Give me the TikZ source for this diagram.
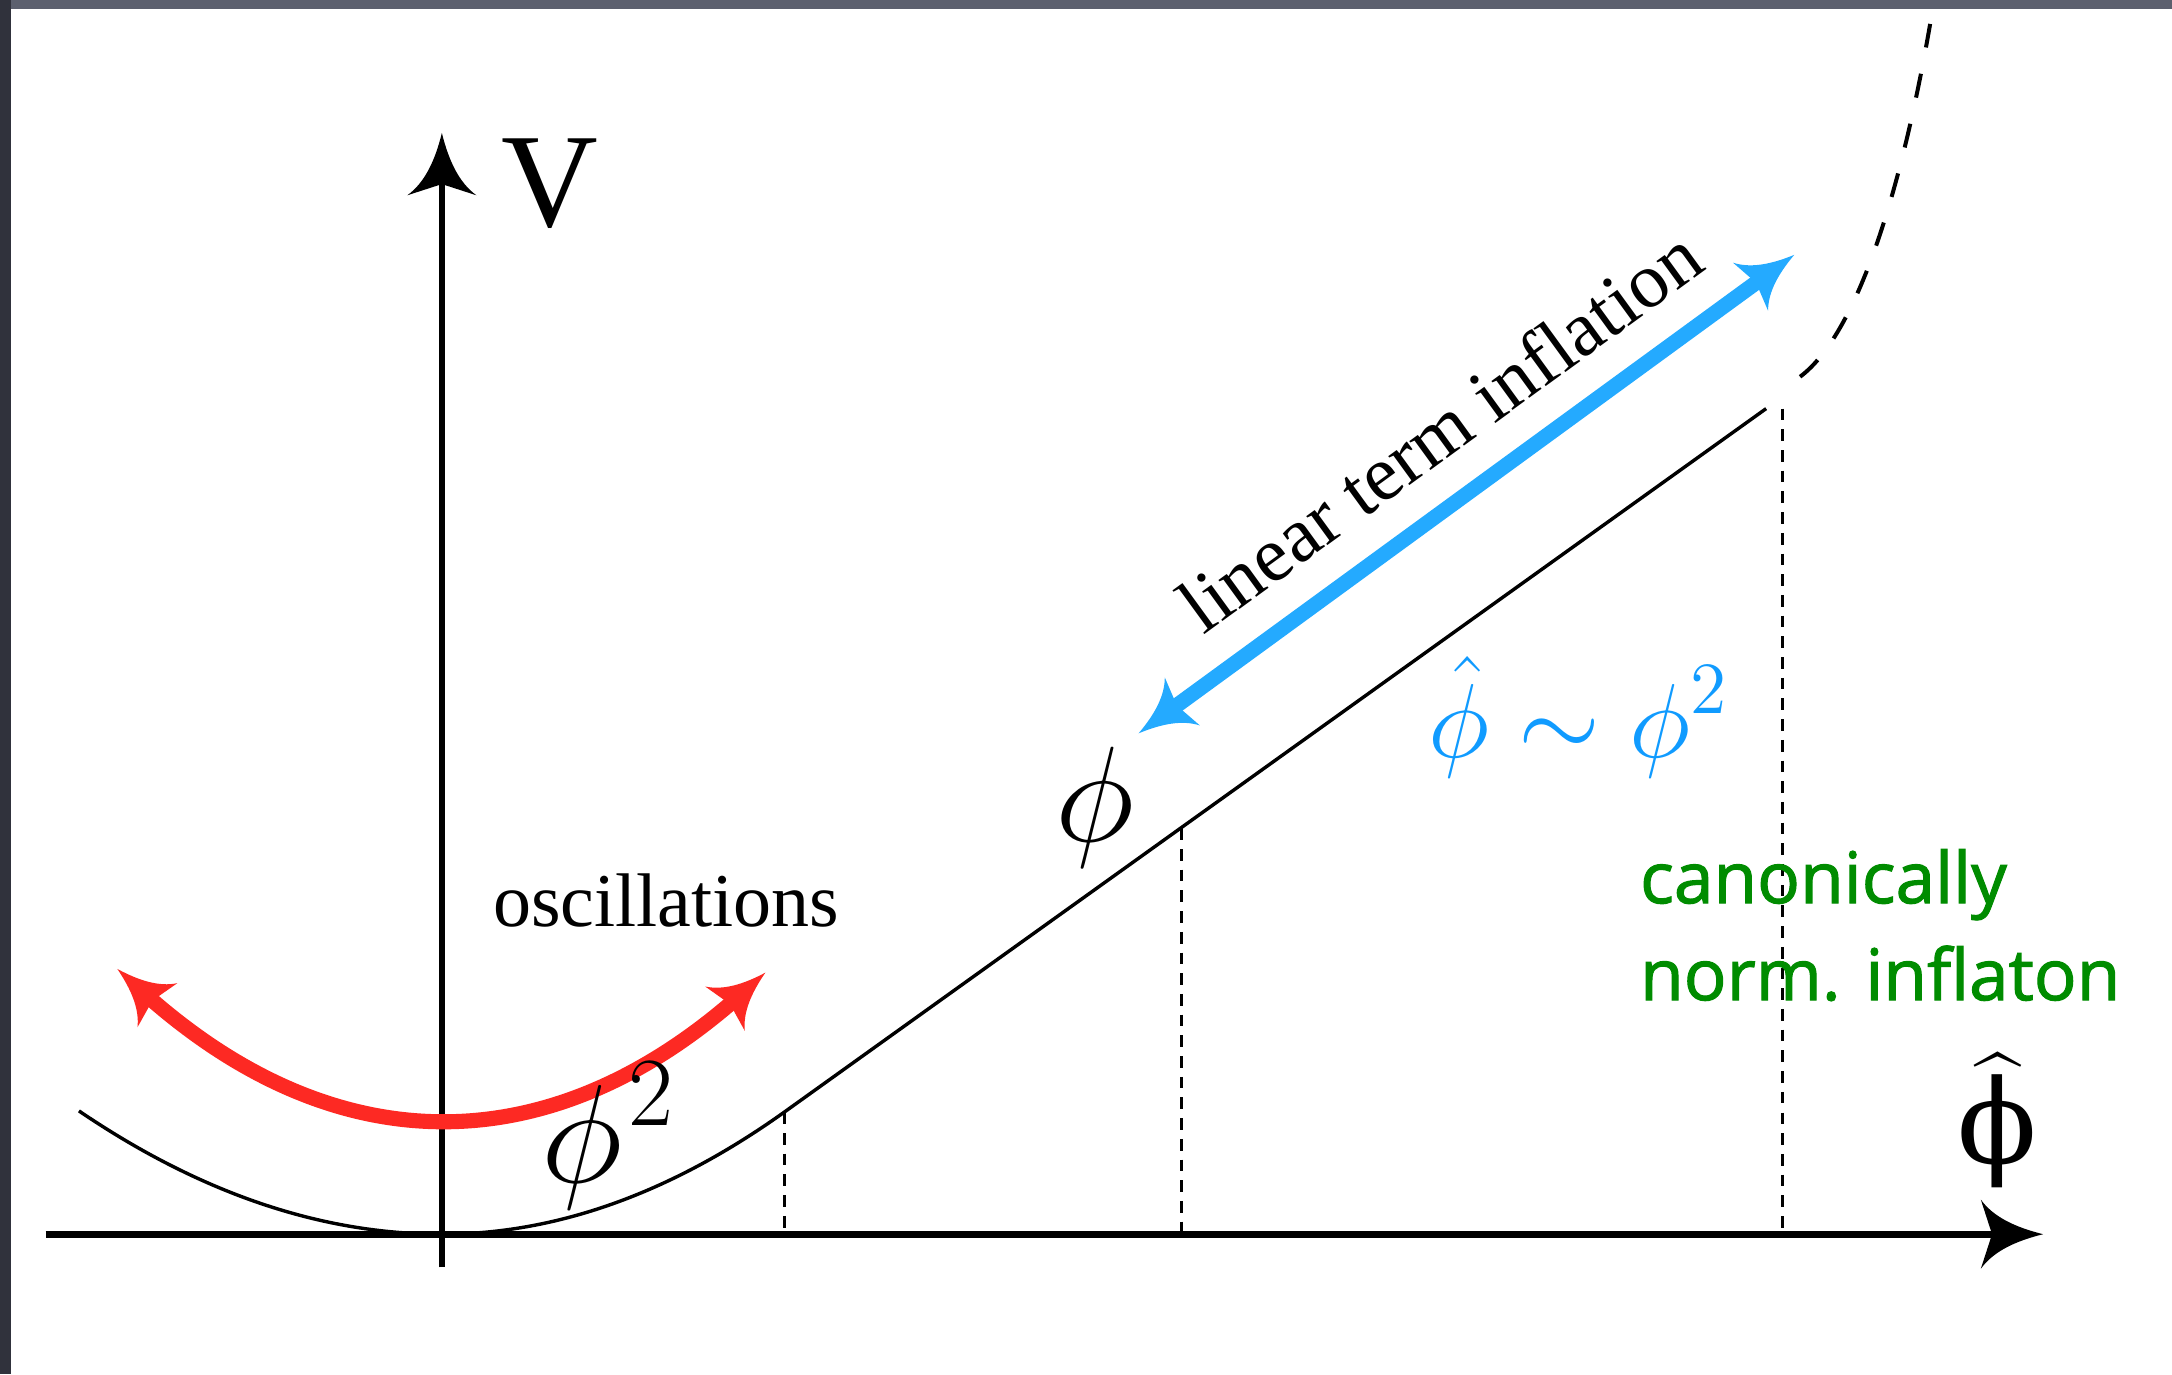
\documentclass[tikz,border=0pt]{standalone}
\usepackage{fix-cm}
\usepackage[no-math]{fontspec}
\usepackage{amsmath}
\setmainfont{Liberation Serif}
\newfontfamily\greenfont[FakeBold=1.5]{Open Sans}
\newfontfamily\phifont{DejaVu Serif}
\usetikzlibrary{arrows.meta}

\pgfdeclarearrow{
  name = KArrow,
  defaults = {length = 12pt, width = 12pt, inset = 2pt},
  setup code = {
    \pgfarrowssettipend{0pt}
    \pgfarrowssetbackend{-\pgfarrowlength}
    \pgfarrowssetlineend{-0.6\pgfarrowlength}
    \pgfarrowssavethe\pgfarrowlength
    \pgfarrowssavethe\pgfarrowwidth
    \pgfarrowssavethe\pgfarrowinset
  },
  parameters = {\the\pgfarrowlength,\the\pgfarrowwidth,\the\pgfarrowinset},
  drawing code = {
    \pgfpathmoveto{\pgfpointorigin}
    \pgfpathcurveto
      {\pgfpoint{-0.45\pgfarrowlength}{0.1\pgfarrowwidth}}
      {\pgfpoint{-0.8\pgfarrowlength}{0.25\pgfarrowwidth}}
      {\pgfpoint{-\pgfarrowlength}{0.5\pgfarrowwidth}}
    \pgfpathlineto{\pgfpoint{\pgfarrowinset-\pgfarrowlength}{0pt}}
    \pgfpathlineto{\pgfpoint{-\pgfarrowlength}{-0.5\pgfarrowwidth}}
    \pgfpathcurveto
      {\pgfpoint{-0.8\pgfarrowlength}{-0.25\pgfarrowwidth}}
      {\pgfpoint{-0.45\pgfarrowlength}{-0.1\pgfarrowwidth}}
      {\pgfpointorigin}
    \pgfpathclose
    \pgfusepathqfill
  }
}

\definecolor{oscred}{RGB}{253,41,35}
\definecolor{infblue}{RGB}{36,170,255}
\definecolor{formblue}{RGB}{16,155,255}
\definecolor{cangreen}{RGB}{0,140,0}
\definecolor{frametop}{RGB}{92,96,110}
\definecolor{frameleft}{RGB}{48,50,60}

\tikzset{
  axisline/.style={line width=1.37pt, -{KArrow[length=12.8pt,width=14.2pt,inset=2.3pt]}},
  potline/.style={line width=0.7pt},
  guide/.style={line width=0.62pt, dash pattern=on 2.4pt off 1.85pt},
  extline/.style={line width=0.82pt, dash pattern=on 5pt off 5.5pt},
  bigarrow/.style={line width=3.1pt,
    {KArrow[length=11.1pt,width=12.2pt,inset=1.4pt]}-{KArrow[length=11.1pt,width=12.2pt,inset=1.4pt]}},
  lbl/.style={inner sep=0pt, outer sep=0pt},
}

\begin{document}
\begin{tikzpicture}[x=0.01cm, y=-0.01cm]
  \useasboundingbox (0,0) rectangle (1568,992);
  \fill[white] (0,0) rectangle (1568,992);
  \fill[frametop] (0,0) rectangle (1568,6.5);
  \fill[frameleft] (0,0) rectangle (7.7,992);

  % coordinates
  \coordinate (xstart) at (33,891);
  \coordinate (xend) at (1475,891);
  \coordinate (ystart) at (319,915);
  \coordinate (yend) at (319,96);
  \coordinate (pleft) at (57,802);
  \coordinate (pmin) at (319,891);
  \coordinate (pjoin) at (566,803);
  \coordinate (pend) at (1275,295);
  \coordinate (dstart) at (1299.5,272);
  \coordinate (dend) at (1393.4,17.3);
  \coordinate (g1top) at (566,803);
  \coordinate (g1bot) at (566,891);
  \coordinate (g2top) at (853,598);
  \coordinate (g2bot) at (853,891);
  \coordinate (g3top) at (1287,295);
  \coordinate (g3bot) at (1287,891);
  \coordinate (rl) at (84.7,699.5);
  \coordinate (rr) at (552.5,702.2);
  \coordinate (bl) at (822,529.4);
  \coordinate (bu) at (1295.3,184);

  % axes
  \draw[axisline] (xstart) -- (xend);
  \draw[axisline] (ystart) -- (yend);

  % potential
  \draw[potline] (pleft) .. controls (144.3,861.3) and (231.7,891) .. (pmin)
    .. controls (401.3,891) and (483.7,861.7) .. (pjoin) -- (pend);
  \draw[extline] (dstart) .. controls (1343.5,239) and (1374.7,125.7) .. (dend);

  % guides
  \draw[guide] (g1top) -- (g1bot);
  \draw[guide] (g2top) -- (g2bot);
  \draw[guide] (g3top) -- (g3bot);

  % arrows
  \draw[bigarrow, oscred] (rl) .. controls (240.6,840.5) and (396.6,841.4) .. (rr);
  \draw[bigarrow, infblue] (bl) -- (bu);

  % labels
  \node[lbl, anchor=base, font=\fontsize{27.5}{33}\selectfont] (vlab) at (397,163.7) {V};
  \node[lbl, anchor=base, font=\phifont\fontsize{24}{28}\selectfont] (philab) at (1442,840)
    {\ooalign{\hfil\raisebox{10pt}{\fontsize{17.4}{18}\selectfont$\widehat{}$}\hfil\cr ϕ\cr}};
  \node[lbl, anchor=base west, font=\fontsize{15.6}{18}\selectfont] (osc) at (356,669) {oscillations};
  \node[lbl, anchor=base, rotate=36.05, font=\fontsize{16}{19}\selectfont] (lin) at (1051,326.5) {linear term inflation};
  \node[lbl, anchor=base west, font=\fontsize{28.7}{33}\selectfont] (phisq) at (391,854) {$\displaystyle\phi^{\mkern1mu 2}$};
  \node[lbl, anchor=base, font=\fontsize{27.9}{33}\selectfont] (phi) at (790.5,607.6) {$\phi$};
  \node[lbl, anchor=base west, text=formblue, font=\fontsize{21.6}{25}\selectfont] (rel) at (1031,546.7) {$\displaystyle\hat{\phi}\sim\phi^{2}$};
  \node[lbl, anchor=base west, text=cangreen, font=\greenfont\fontsize{14.6}{18}\selectfont] (can1) at (1184,652) {canonically};
  \node[lbl, anchor=base west, text=cangreen, font=\greenfont\fontsize{14.6}{18}\selectfont] (can2) at (1184,722) {norm. inflaton};
\end{tikzpicture}
\end{document}
